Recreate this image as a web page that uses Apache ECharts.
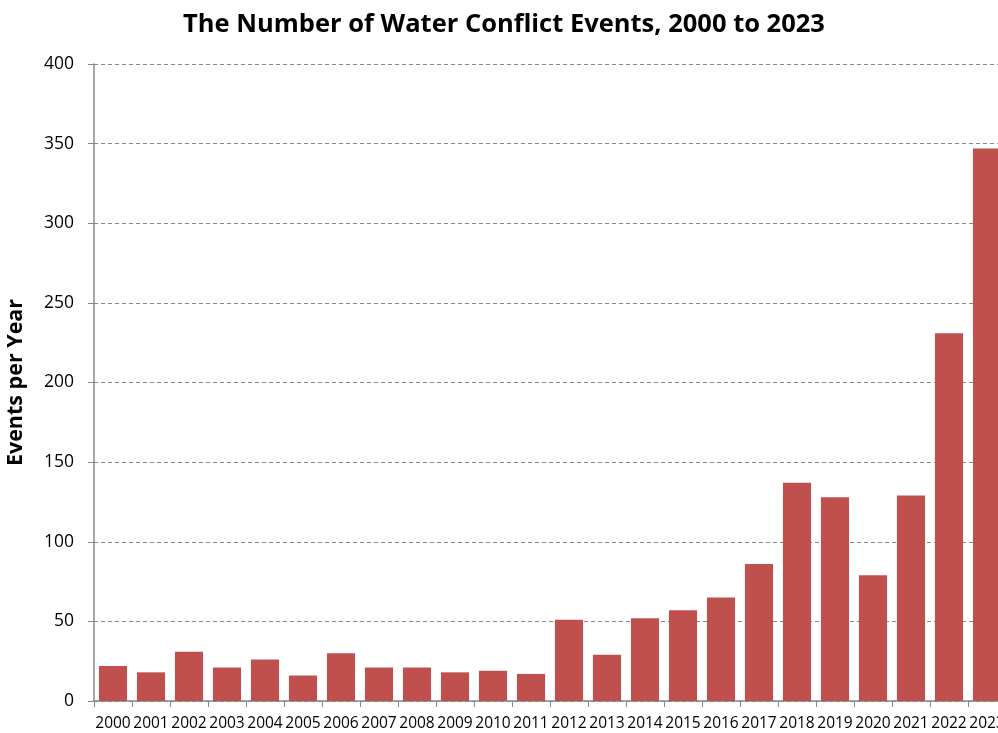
<!DOCTYPE html>
<html><head><meta charset="utf-8">
<script src="https://cdn.jsdelivr.net/npm/echarts@6/dist/echarts.min.js"></script>
<style>html,body{margin:0;padding:0;background:#fff}#c{width:998px;height:733px}</style>
</head><body><div id="c"></div>
<script>
const years = ['2000','2001','2002','2003','2004','2005','2006','2007','2008','2009','2010','2011','2012','2013','2014','2015','2016','2017','2018','2019','2020','2021','2022','2023'];
const events = [22,18,31,21,26,16,30,21,21,18,19,17,51,29,52,57,65,86,137,128,79,129,231,347];
const yTicks = {min:0,max:400,interval:50};
const chart = echarts.init(document.getElementById('c'));
chart.setOption({
  animation:false,
  title:{text:'The Number of Water Conflict Events, 2000 to 2023',left:499,textAlign:'center',top:7,
    textStyle:{fontFamily:'Open Sans',fontWeight:'bold',fontSize:25.5,color:'#000'}},
  grid:{left:94,top:64,right:-8,bottom:32,containLabel:false,outerBoundsMode:'none'},
  xAxis:{type:'category',data:years,
    axisLine:{lineStyle:{color:'#888',width:1.5}},
    axisTick:{show:true,alignWithLabel:false,length:6,lineStyle:{color:'#888'}},
    axisLabel:{interval:0,color:'#000',fontFamily:'Open Sans',fontSize:15.5,margin:15,hideOverlap:false}},
  yAxis:{type:'value',min:yTicks.min,max:yTicks.max,interval:yTicks.interval,
    name:'Events per Year',nameLocation:'middle',nameGap:67,
    nameTextStyle:{fontFamily:'Open Sans',fontWeight:'bold',fontSize:21.5,color:'#000'},
    axisLine:{show:true,lineStyle:{color:'#888',width:1.5}},
    axisTick:{show:true,length:6,lineStyle:{color:'#888'}},
    axisLabel:{color:'#000',fontFamily:'Open Sans',fontSize:17.5,margin:20},
    splitLine:{show:true,lineStyle:{color:'#888',type:[4,3],width:1}}},
  series:[{type:'bar',data:events,barCategoryGap:'26%',itemStyle:{color:'#C0504D'}}]
});
</script></body></html>
